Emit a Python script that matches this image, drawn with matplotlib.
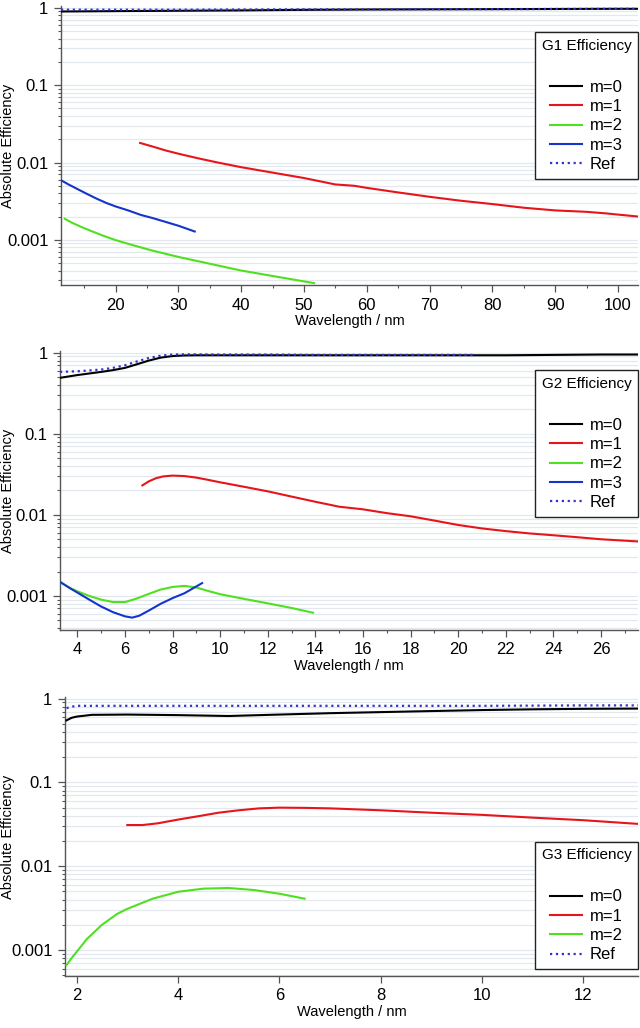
import matplotlib
matplotlib.use("Agg")
import matplotlib.pyplot as plt
from matplotlib.ticker import FixedLocator, NullFormatter, MultipleLocator, NullLocator

plt.rcParams['font.family'] = ['Liberation Sans', 'DejaVu Sans']

# ---------------- G1 ----------------
g1_m0_x = [11.3, 20, 30, 40, 50, 60, 70, 80, 90, 100, 103.2]
g1_m0_y = [0.90, 0.91, 0.92, 0.93, 0.945, 0.955, 0.96, 0.965, 0.97, 0.975, 0.975]
g1_ref_x = [11.3, 20, 30, 40, 50, 60, 70, 80, 90, 100, 103.2]
g1_ref_y = [0.95, 0.95, 0.95, 0.955, 0.96, 0.96, 0.965, 0.965, 0.97, 0.975, 0.975]
g1_m1_x = [23.9, 26, 28, 30, 33, 36, 40, 45, 50, 55, 58, 60, 65, 70, 75, 80, 85, 90, 95, 98, 100, 103.2]
g1_m1_y = [0.0179, 0.0160, 0.0143, 0.0130, 0.0114, 0.0101, 0.0087, 0.0074, 0.0063, 0.0052, 0.0050, 0.0047, 0.0041, 0.0036, 0.0032, 0.0029, 0.0026, 0.0024, 0.0023, 0.0022, 0.00212, 0.0020]
g1_m2_x = [11.9, 13, 14.5, 16, 18, 20, 23, 26, 30, 35, 40, 45, 51.6]
g1_m2_y = [0.00187, 0.00167, 0.00147, 0.00131, 0.00113, 0.00099, 0.00084, 0.00072, 0.00060, 0.00049, 0.00040, 0.00034, 0.000275]
g1_m3_x = [11.3, 12.5, 14, 15.5, 17, 18.5, 20, 22, 24, 26, 28, 30, 32.6]
g1_m3_y = [0.0059, 0.0052, 0.0045, 0.0039, 0.0034, 0.0030, 0.0027, 0.0024, 0.0021, 0.0019, 0.0017, 0.00152, 0.00128]

# ---------------- G2 ----------------
g2_m0_x = [3.27, 4, 5, 5.5, 6, 6.5, 7, 7.5, 8, 8.5, 9, 10, 12, 14, 16, 18, 20, 22, 24, 26, 27.55]
g2_m0_y = [0.49, 0.53, 0.58, 0.61, 0.65, 0.72, 0.80, 0.87, 0.91, 0.925, 0.93, 0.93, 0.93, 0.93, 0.93, 0.93, 0.93, 0.93, 0.94, 0.95, 0.95]
g2_ref_x = [3.27, 4, 5, 5.5, 6, 6.5, 7, 7.5, 8, 8.5, 9, 10, 12, 14, 16, 18, 20.65]
g2_ref_y = [0.58, 0.59, 0.62, 0.65, 0.70, 0.78, 0.86, 0.92, 0.95, 0.955, 0.955, 0.95, 0.95, 0.94, 0.94, 0.94, 0.94]
g2_m1_x = [6.73, 7.0, 7.3, 7.6, 8.0, 8.5, 9, 9.5, 10, 11, 12, 13, 14, 15, 16, 17, 18, 19, 20, 21, 22, 23, 24, 25, 26, 27.55]
g2_m1_y = [0.0231, 0.0259, 0.0283, 0.0298, 0.0305, 0.0301, 0.0288, 0.0270, 0.0252, 0.0222, 0.0195, 0.0168, 0.0145, 0.0126, 0.0117, 0.0105, 0.0096, 0.0085, 0.0075, 0.0068, 0.0063, 0.0059, 0.0056, 0.0053, 0.0050, 0.0047]
g2_m2_x = [3.3, 3.7, 4, 4.5, 5, 5.5, 6, 6.5, 7, 7.5, 8, 8.5, 9, 9.5, 10, 11, 12, 13, 13.9]
g2_m2_y = [0.00147, 0.00125, 0.00114, 0.00100, 0.00090, 0.00084, 0.00084, 0.00093, 0.00106, 0.00120, 0.00129, 0.00133, 0.00127, 0.00115, 0.00105, 0.00092, 0.00081, 0.00071, 0.00062]
g2_m3_x = [3.3, 3.7, 4, 4.5, 5, 5.5, 6, 6.3, 6.6, 7, 7.5, 8, 8.5, 9.24]
g2_m3_y = [0.00147, 0.00124, 0.00110, 0.00090, 0.00074, 0.00063, 0.00056, 0.00054, 0.00057, 0.00066, 0.00080, 0.00094, 0.00108, 0.00144]

# ---------------- G3 ----------------
g3_m0_x = [1.8, 1.9, 2.0, 2.3, 3, 4, 5, 6, 7, 8, 9, 10, 11, 12, 13.08]
g3_m0_y = [0.55, 0.59, 0.61, 0.64, 0.645, 0.635, 0.62, 0.645, 0.67, 0.69, 0.71, 0.73, 0.745, 0.755, 0.76]
g3_ref_x = [1.8, 1.9, 2.0, 2.5, 4, 6, 8, 10, 12, 13.08]
g3_ref_y = [0.77, 0.80, 0.82, 0.82, 0.82, 0.82, 0.82, 0.82, 0.83, 0.83]
g3_m1_x = [3.0, 3.3, 3.6, 4.0, 4.4, 4.8, 5.2, 5.6, 6.0, 6.5, 7, 8, 9, 10, 11, 12, 13.08]
g3_m1_y = [0.031, 0.031, 0.0325, 0.036, 0.0395, 0.0435, 0.0465, 0.049, 0.050, 0.0497, 0.049, 0.0465, 0.0435, 0.041, 0.038, 0.0354, 0.032]
g3_m2_x = [1.8, 1.9, 2.0, 2.2, 2.5, 2.8, 3.0, 3.5, 4.0, 4.5, 5.0, 5.5, 6.0, 6.5]
g3_m2_y = [0.00066, 0.00080, 0.00095, 0.00135, 0.0020, 0.0027, 0.0031, 0.0041, 0.00495, 0.0054, 0.0055, 0.0052, 0.0047, 0.0041]

C_BLACK = '#000000'
C_RED = '#e8141c'
C_GREEN = '#4fe021'
C_BLUE = '#1434cc'
C_REF = '#3333cc'

panels = [
    dict(title='G1 Efficiency', rect=(61, 6, 638, 285), xlim=(11.3, 103.2), ylim=(2.6e-4, 1.06),
         xmaj=10, xmin=5,
         series=[(g1_m0_x, g1_m0_y, C_BLACK, '-', 'm=0'), (g1_m1_x, g1_m1_y, C_RED, '-', 'm=1'),
                 (g1_m2_x, g1_m2_y, C_GREEN, '-', 'm=2'), (g1_m3_x, g1_m3_y, C_BLUE, '-', 'm=3'),
                 (g1_ref_x, g1_ref_y, C_REF, ':', 'Ref')],
         leg=dict(loc='upper right', bbox_to_anchor=(1.0, 0.907))),
    dict(title='G2 Efficiency', rect=(60, 351, 638, 630), xlim=(3.27, 27.55), ylim=(3.8e-4, 1.05),
         xmaj=2, xmin=1,
         series=[(g2_m0_x, g2_m0_y, C_BLACK, '-', 'm=0'), (g2_m1_x, g2_m1_y, C_RED, '-', 'm=1'),
                 (g2_m2_x, g2_m2_y, C_GREEN, '-', 'm=2'), (g2_m3_x, g2_m3_y, C_BLUE, '-', 'm=3'),
                 (g2_ref_x, g2_ref_y, C_REF, ':', 'Ref')],
         leg=dict(loc='upper right', bbox_to_anchor=(1.0, 0.932))),
    dict(title='G3 Efficiency', rect=(65, 697, 638, 976), xlim=(1.77, 13.08), ylim=(4.9e-4, 1.045),
         xmaj=2, xmin=None,
         series=[(g3_m0_x, g3_m0_y, C_BLACK, '-', 'm=0'), (g3_m1_x, g3_m1_y, C_RED, '-', 'm=1'),
                 (g3_m2_x, g3_m2_y, C_GREEN, '-', 'm=2'),
                 (g3_ref_x, g3_ref_y, C_REF, ':', 'Ref')],
         leg=dict(loc='lower right', bbox_to_anchor=(1.0, 0.025))),
]

W, H = 640, 1028
fig = plt.figure(figsize=(W / 100, H / 100), dpi=100)

yt_major = [0.001, 0.01, 0.1, 1]
yt_labels = ['0.001', '0.01', '0.1', '1']
minors = [m * 10.0 ** e for e in range(-4, 1) for m in range(2, 10)]
grid_vals = [v for v in minors + yt_major]

for p in panels:
    l, t, r, b = p['rect']
    ax = fig.add_axes([l / W, 1 - b / H, (r - l) / W, (b - t) / H])
    ax.set_yscale('log')
    ax.set_xlim(*p['xlim'])
    ax.set_ylim(*p['ylim'])
    for v in grid_vals:
        if p['ylim'][0] <= v <= p['ylim'][1]:
            ax.axhline(v, color='#e3e8ef', lw=0.9, zorder=0)
    for x, y, c, ls, lab in p['series']:
        ax.plot(x, y, color=c, ls=ls, lw=1.5 if ls == '-' else 1.6, label=lab, zorder=3)
    ax.yaxis.set_major_locator(FixedLocator(yt_major))
    ax.set_yticklabels(yt_labels)
    ax.yaxis.set_minor_locator(FixedLocator(minors))
    ax.yaxis.set_minor_formatter(NullFormatter())
    ax.xaxis.set_major_locator(MultipleLocator(p['xmaj']))
    if p['xmin']:
        ax.xaxis.set_minor_locator(MultipleLocator(p['xmin']))
    else:
        ax.xaxis.set_minor_locator(NullLocator())
    for s in ['top', 'right']:
        ax.spines[s].set_visible(False)
    for s in ['left', 'bottom']:
        ax.spines[s].set_color('#555555')
        ax.spines[s].set_linewidth(1.0)
    ax.tick_params(which='major', direction='out', length=5, width=0.9, color='#555555', labelsize=12, pad=4)
    ax.tick_params(which='minor', direction='out', length=2.5, width=0.8, color='#555555')
    ax.set_xlabel('Wavelength / nm', fontsize=10.5, labelpad=1)
    ax.set_ylabel('Absolute Efficiency', fontsize=10.5)
    ax.yaxis.set_label_coords(-(l - 15) / (r - l), 0.5)
    leg = ax.legend(title=p['title'] + '\n', frameon=True, fancybox=False, edgecolor='#222222',
                    framealpha=1.0, fontsize=12, title_fontsize=11, handlelength=1.9,
                    handletextpad=0.5, borderpad=0.4, labelspacing=0.26, borderaxespad=0,
                    **p['leg'])
    leg.get_title().set_linespacing(1.8)
    leg.get_frame().set_linewidth(1.0)
    leg.set_zorder(5)

fig.savefig('out.png', dpi=100)
